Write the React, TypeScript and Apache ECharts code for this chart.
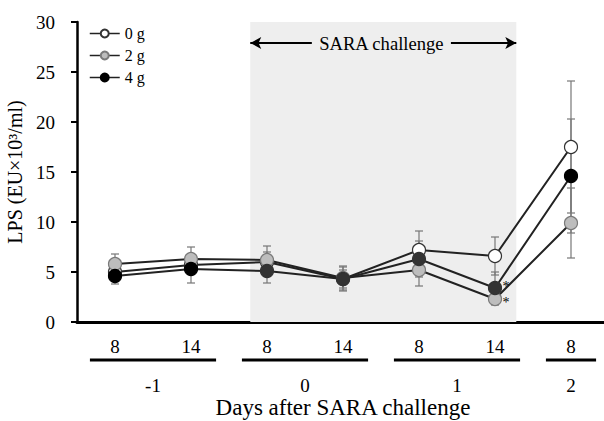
import React, { useEffect, useRef } from "react";
import * as echarts from "echarts";

const categories = ["8", "14", "8", "14", "8", "14", "8"];
const seriesNames = ["0 g", "2 g", "4 g"];
const mean0 = [5.0, 5.7, 6.0, 4.3, 7.2, 6.6, 17.5];
const sd0 = [0.8, 0.9, 1.0, 0.9, 1.9, 1.9, 6.6];
const mean2 = [5.8, 6.3, 6.2, 4.4, 5.2, 2.3, 9.9];
const sd2 = [1.0, 1.2, 1.4, 1.2, 1.6, 0.6, 3.5];
const mean4 = [4.6, 5.3, 5.1, 4.3, 6.3, 3.4, 14.6];
const sd4 = [0.8, 1.4, 1.2, 1.2, 1.8, 1.6, 5.7];
const starIdx = 5;
const starSeries = [2, 1];
const groupLabels = ["-1", "0", "1", "2"];
const groupStart = [0, 2, 4, 6];
const groupEnd = [1, 3, 5, 6];
const shadeRange = [1.78, 5.28];
const challengeText = "SARA challenge";
const challengeY = 27.9;
const arrowLeft = [1.78, 2.59];
const arrowRight = [4.42, 5.28];
const yTicks = { min: 0, max: 30, interval: 5 };

const FONT = "Liberation Serif";

export default function App() {
  const ref = useRef<HTMLDivElement>(null);
  useEffect(() => {
    document.body.style.margin = "0";
    const chart = echarts.init(ref.current!, null, { renderer: "svg" });
    const means = [mean0, mean2, mean4];
    const sds = [sd0, sd2, sd4];
    const fills = ["#ffffff", "#bdbdbd", "#000000"];
    const borders = ["#333333", "#7a7a7a", "#000000"];
    const inShade = (i: number) => i >= shadeRange[0] && i <= shadeRange[1];

    const errData: number[][] = [];
    means.forEach((m, s) =>
      m.forEach((v, i) => errData.push([i, v - sds[s][i], v + sds[s][i]]))
    );

    const lineSeries = means.map((m, s) => ({
      type: "line",
      name: seriesNames[s],
      xAxisIndex: 0,
      yAxisIndex: 0,
      z: 3 + s,
      symbol: "circle",
      symbolSize: 13,
      lineStyle: { color: "#222", width: 2 },
      itemStyle: { color: fills[s], borderColor: borders[s], borderWidth: 1.2 },
      data: m.map((v, i) => {
        const item: any = { value: v };
        if (s === 2 && inShade(i)) {
          item.itemStyle = { color: "#333", borderColor: "#333" };
        }
        return item;
      }),
    }));

    const labelStyle = {
      fontFamily: FONT,
      fontSize: 19,
      fontWeight: 400,
      color: "#000",
      textBorderWidth: 0,
      textShadowBlur: 0,
    };

    const option: any = {
      animation: false,
      backgroundColor: "#fff",
      textStyle: { fontFamily: FONT, color: "#000", fontWeight: 400 },
      grid: {
        left: 77,
        top: 22,
        width: 532,
        height: 300,
        containLabel: false,
        outerBoundsMode: "none",
      },
      legend: {
        data: seriesNames,
        orient: "vertical",
        left: 84,
        top: 20.5,
        itemWidth: 30,
        itemHeight: 10,
        itemGap: 6,
        lineStyle: { width: 1.5, color: "#222" },
        textStyle: { fontFamily: FONT, fontSize: 16, color: "#000" },
      },
      xAxis: [
        {
          type: "category",
          data: categories,
          boundaryGap: true,
          axisLine: { onZero: false, lineStyle: { color: "#000", width: 3 } },
          axisTick: { alignWithLabel: true, length: 6, lineStyle: { color: "#000", width: 2 } },
          axisLabel: { ...labelStyle, margin: 15 },
          name: "Days after SARA challenge",
          nameLocation: "middle",
          nameGap: 74,
          nameTextStyle: { fontFamily: FONT, fontSize: 23, color: "#000" },
        },
        { type: "value", min: -0.5, max: 6.5, show: false },
      ],
      yAxis: {
        type: "value",
        min: yTicks.min,
        max: yTicks.max,
        interval: yTicks.interval,
        splitLine: { show: false },
        axisLine: { show: true, onZero: false, lineStyle: { color: "#000", width: 2.5 } },
        axisTick: { show: true, length: 6, lineStyle: { color: "#000", width: 2 } },
        axisLabel: { ...labelStyle, margin: 22 },
        name: "LPS (EU×10³/ml)",
        nameLocation: "middle",
        nameRotate: 90,
        nameGap: 52,
        nameTextStyle: { fontFamily: FONT, fontSize: 20, color: "#000" },
      },
      series: [
        {
          type: "line",
          xAxisIndex: 1,
          yAxisIndex: 0,
          data: [],
          z: 0,
          silent: true,
          markArea: {
            silent: true,
            itemStyle: { color: "#eeeeee" },
            data: [[{ xAxis: shadeRange[0], yAxis: yTicks.min }, { xAxis: shadeRange[1], yAxis: yTicks.max }]],
          },
          markLine: {
            silent: true,
            symbolSize: [9, 11],
            label: { show: false },
            lineStyle: { color: "#000", width: 2, type: "solid" },
            data: [
              [
                { coord: [arrowLeft[0], challengeY], symbol: "arrow" },
                { coord: [arrowLeft[1], challengeY], symbol: "none" },
              ],
              [
                { coord: [arrowRight[0], challengeY], symbol: "none" },
                { coord: [arrowRight[1], challengeY], symbol: "arrow" },
              ],
            ],
          },
        },
        {
          type: "custom",
          xAxisIndex: 0,
          yAxisIndex: 0,
          z: 2,
          silent: true,
          data: errData,
          renderItem: (params: any, api: any) => {
            const x = api.value(0);
            const lo = api.coord([x, api.value(1)]);
            const hi = api.coord([x, api.value(2)]);
            const w = 4;
            const style = { stroke: "#777", lineWidth: 1.2 };
            return {
              type: "group",
              children: [
                { type: "line", shape: { x1: lo[0], y1: lo[1], x2: hi[0], y2: hi[1] }, style },
                { type: "line", shape: { x1: lo[0] - w, y1: lo[1], x2: lo[0] + w, y2: lo[1] }, style },
                { type: "line", shape: { x1: hi[0] - w, y1: hi[1], x2: hi[0] + w, y2: hi[1] }, style },
              ],
            };
          },
        },
        ...lineSeries,
      ],
    };
    chart.setOption(option);

    const y0 = chart.convertToPixel({ yAxisIndex: 0 }, 0) as number;
    const px = (v: number) => chart.convertToPixel({ xAxisIndex: 1 }, v) as number;
    const py = (v: number) => chart.convertToPixel({ yAxisIndex: 0 }, v) as number;
    const graphics: any[] = [];
    groupLabels.forEach((lab, g) => {
      const a = px(groupStart[g] - 0.33);
      const b = px(groupEnd[g] + 0.33);
      graphics.push({
        type: "line",
        z: 100,
        shape: { x1: a, y1: y0 + 38, x2: b, y2: y0 + 38 },
        style: { stroke: "#000", lineWidth: 3 },
      });
      graphics.push({
        type: "text",
        z: 100,
        x: (a + b) / 2,
        y: y0 + 63,
        style: {
          text: lab,
          fontFamily: FONT,
          fontSize: 19,
          fill: "#000",
          align: "center",
          verticalAlign: "middle",
        },
      });
    });
    starSeries.forEach((s, k) => {
      graphics.push({
        type: "text",
        z: 100,
        x: px(starIdx) + 11,
        y: py(means[s][starIdx]) + (k === 0 ? -2 : 3),
        style: {
          text: "*",
          fontFamily: FONT,
          fontSize: 14,
          lineHeight: 9,
          fill: "#000",
          align: "center",
          verticalAlign: "middle",
        },
      });
    });
    graphics.push({
      type: "text",
      z: 100,
      x: px((arrowLeft[1] + arrowRight[0]) / 2),
      y: py(challengeY),
      style: {
        text: challengeText,
        fontFamily: FONT,
        fontSize: 18.6,
        fill: "#000",
        align: "center",
        verticalAlign: "middle",
      },
    });
    chart.setOption({ graphic: graphics });

    return () => chart.dispose();
  }, []);
  return <div ref={ref} style={{ width: 604, height: 421 }} />;
}
